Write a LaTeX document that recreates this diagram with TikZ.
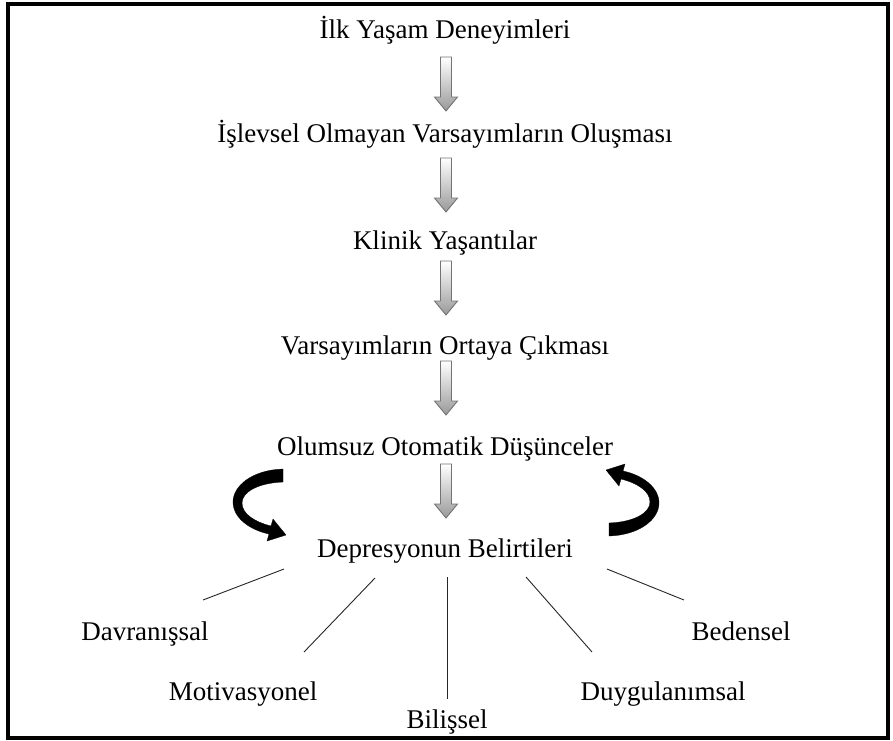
\documentclass[tikz,border=0pt]{standalone}
\usepackage{fontspec}
\setmainfont{Liberation Serif}
\newcommand\garr[1]{%
  \draw[garrow,shift={(#1)}] (-5.5,0) -- (5.5,0) -- (5.5,40) -- (11.5,40) -- (0,54) -- (-11.5,40) -- (-5.5,40) -- cycle;}
\begin{document}
\begin{tikzpicture}[x=1pt,y=-1pt,
  lbl/.style={font=\fontsize{27}{30}\selectfont, inner sep=0pt, anchor=base},
  link/.style={draw=black!85, line width=0.9pt},
  garrow/.style={draw=black!55, line width=0.9pt, top color=white, bottom color=black!40},
  carrow/.style={fill=black, draw=black, line width=0.3pt, line join=round}]
\useasboundingbox (0,0) rectangle (893,740);
\draw[line width=4pt] (7.5,3.5) rectangle (888,738);

% main chain
\node[lbl] (r1) at (445,38) {İlk Yaşam Deneyimleri};
\node[lbl] (r2) at (445,142) {İşlevsel Olmayan Varsayımların Oluşması};
\node[lbl] (r3) at (445,249) {Klinik Yaşantılar};
\node[lbl] (r4) at (445,354) {Varsayımların Ortaya Çıkması};
\node[lbl] (r5) at (445,455) {Olumsuz Otomatik Düşünceler};
\node[lbl] (r6) at (445,557) {Depresyonun Belirtileri};

% gray down arrows
\coordinate (a1) at (446,57);
\coordinate (a2) at (446,158);
\coordinate (a3) at (446,261);
\coordinate (a4) at (446,361);
\coordinate (a5) at (446,464);
\garr{a1}\garr{a2}\garr{a3}\garr{a4}\garr{a5}

% curved black arrows
\coordinate (cc) at (446,502.5);
\path[carrow] (283,469) .. controls (252,470) and (233,486) .. (233,502)
  .. controls (233,518) and (250,530) .. (269,534)
  -- (267,541) -- (286,535) -- (273,519) -- (271,526)
  .. controls (255,522) and (242,514) .. (242,503)
  .. controls (242,492) and (258,483) .. (283,482) -- cycle;
\begin{scope}[rotate around={180:(cc)}]
\path[carrow] (283,469) .. controls (252,470) and (233,486) .. (233,502)
  .. controls (233,518) and (250,530) .. (269,534)
  -- (267,541) -- (286,535) -- (273,519) -- (271,526)
  .. controls (255,522) and (242,514) .. (242,503)
  .. controls (242,492) and (258,483) .. (283,482) -- cycle;
\end{scope}

% categories
\node[lbl] (c1) at (145,640) {Davranışsal};
\node[lbl] (c2) at (243,700) {Motivasyonel};
\node[lbl] (c3) at (447,728) {Bilişsel};
\node[lbl] (c4) at (663,700) {Duygulanımsal};
\node[lbl] (c5) at (741,640) {Bedensel};

\coordinate (s1) at (284,569); \coordinate (e1) at (203,600);
\coordinate (s2) at (375,578); \coordinate (e2) at (304,652);
\coordinate (s3) at (447,577); \coordinate (e3) at (447,699);
\coordinate (s4) at (526,577); \coordinate (e4) at (592,652);
\coordinate (s5) at (607,569); \coordinate (e5) at (684,600);
\draw[link] (s1) -- (e1);
\draw[link] (s2) -- (e2);
\draw[link] (s3) -- (e3);
\draw[link] (s4) -- (e4);
\draw[link] (s5) -- (e5);
\end{tikzpicture}
\end{document}
